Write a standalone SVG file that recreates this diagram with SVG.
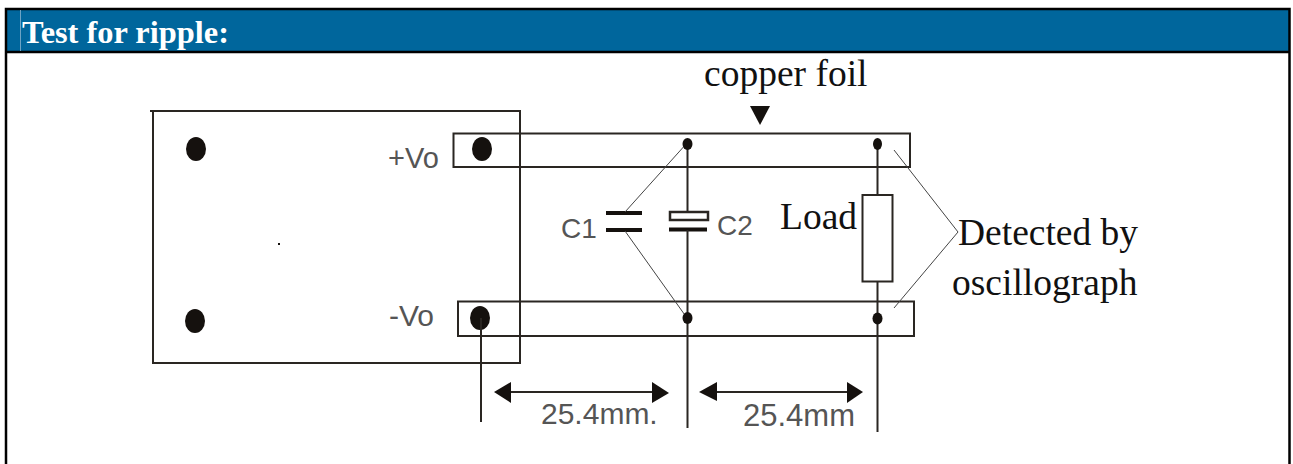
<svg xmlns="http://www.w3.org/2000/svg" width="1293" height="464" viewBox="0 0 1293 464">
<style>
.s{font-family:"Liberation Serif",serif;fill:#111;font-size:37.500px}
.a{font-family:"Liberation Sans",sans-serif;fill:#555;font-weight:400}
.l{fill:none;stroke:#2a2622;stroke-width:2}
.t{fill:none;stroke:#444;stroke-width:1}
.d{fill:#15110e}
</style>
<rect width="1293" height="464" fill="#fff"/>
<g id="frame">
<rect x="7" y="9" width="1282" height="42" fill="#00669c"/>
<path d="M6 464V9H1289.500V464" fill="none" stroke="#000" stroke-width="2.500"/>
<path d="M6 52H1290" stroke="#000" stroke-width="2.500"/>
<path d="M20.500 10V51" stroke="#6da3c4" stroke-width="1"/>
<text x="22" y="43" font-family="Liberation Serif, serif" font-size="32.400" font-weight="700" fill="#fff">Test for ripple:</text>
</g>
<g id="module">
<path class="l" d="M150 111H520V363H153V111"/>
<ellipse class="d" cx="196" cy="149" rx="10" ry="12"/>
<ellipse class="d" cx="195" cy="321" rx="10" ry="12"/>
<rect class="d" x="278" y="243" width="2" height="2"/>
<text class="a" x="388" y="168" font-size="29">+Vo</text>
<text class="a" x="389" y="326" font-size="30">-Vo</text>
</g>
<g id="foil-top">
<rect class="l" x="453.500" y="133.500" width="456.500" height="33.500"/>
<ellipse class="d" cx="482" cy="149" rx="10" ry="12"/>
</g>
<g id="foil-bottom">
<rect class="l" x="458" y="301.500" width="456" height="34.500"/>
<ellipse class="d" cx="480" cy="318" rx="10" ry="12"/>
</g>
<g id="copper-foil">
<text class="s" x="704" y="86">copper foil</text>
<polygon class="d" points="750,106 770,106 760,125"/>
</g>
<g id="c1">
<path d="M606 213H642M606 230H642" stroke="#15110e" stroke-width="4" fill="none"/>
<text class="a" x="561" y="238" font-size="28">C1</text>
</g>
<g id="c2">
<rect x="670" y="212" width="38" height="8" fill="none" stroke="#2a2622" stroke-width="2.500"/>
<path d="M669 229.500H707" stroke="#15110e" stroke-width="4" fill="none"/>
<text class="a" x="717" y="235" font-size="28">C2</text>
</g>
<g id="load">
<rect class="l" x="862.500" y="195" width="30" height="86.500"/>
<text class="s" x="780" y="229">Load</text>
</g>
<g id="oscillograph">
<text class="s" x="958" y="245">Detected by</text>
<text class="s" x="952" y="295">oscillograph</text>
</g>
<g id="connectors">
<path class="l" d="M687.500 143V212M687.500 230V428M877.500 144V195M877.500 282V432M481 318V422"/>
<path class="t" d="M687 143L625 212M625 231L687 318M894 150L958 232L894 308"/>
<ellipse class="d" cx="687.500" cy="144" rx="5" ry="6"/>
<ellipse class="d" cx="877.500" cy="144" rx="4.500" ry="6"/>
<ellipse class="d" cx="687.500" cy="318" rx="5" ry="6"/>
<ellipse class="d" cx="877.500" cy="318.500" rx="5" ry="6"/>
<path class="l" d="M505 392H660M710 392H853"/>
<polygon class="d" points="494,392 511,382 511,403"/>
<polygon class="d" points="669,393 652,382 652,403"/>
<polygon class="d" points="699,392 717,382 717,401"/>
<polygon class="d" points="863,392 847,382 847,403"/>
<text class="a" x="541" y="424" font-size="30">25.4mm.</text>
<text class="a" x="743" y="426" font-size="31">25.4mm</text>
</g>
</svg>
